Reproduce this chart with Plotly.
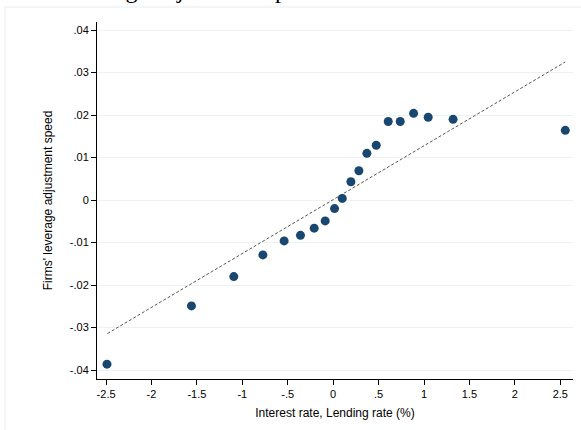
import plotly.graph_objects as go

# Binned scatter data
bin_x = [-2.49, -1.56, -1.094, -0.774, -0.54, -0.36, -0.209, -0.088, 0.015, 0.10,
         0.195, 0.283, 0.371, 0.474, 0.606, 0.738, 0.885, 1.046, 1.32, 2.555]
bin_y = [-0.0386, -0.0249, -0.0180, -0.0129, -0.0096, -0.0083, -0.0066, -0.0049, -0.0020, 0.0004,
         0.0043, 0.0069, 0.0110, 0.0129, 0.0185, 0.0185, 0.0204, 0.0195, 0.0190, 0.0164]

# Linear fit line endpoints
fit_x = [-2.485, 2.555]
fit_y = [-0.0314, 0.0325]

x_tickvals = [-2.5, -2, -1.5, -1, -0.5, 0, 0.5, 1, 1.5, 2, 2.5]
x_ticktext = ["-2.5", "-2", "-1.5", "-1", "-.5", "0", ".5", "1", "1.5", "2", "2.5"]
y_tickvals = [-0.04, -0.03, -0.02, -0.01, 0, 0.01, 0.02, 0.03, 0.04]
y_ticktext = ["-.04", "-.03", "-.02", "-.01", "0", ".01", ".02", ".03", ".04"]

title_text = "Leverage adjustment speed and Interest rate"
x_title = "Interest rate, Lending rate (%)"
y_title = "Firms' leverage adjustment speed"

fig = go.Figure()
fig.add_trace(go.Scatter(x=fit_x, y=fit_y, mode="lines",
                         line=dict(color="#555555", width=1, dash="3px,2px"),
                         hoverinfo="skip", showlegend=False))
fig.add_trace(go.Scatter(x=bin_x, y=bin_y, mode="markers",
                         marker=dict(color="#1a476f", size=9, line=dict(width=0)),
                         showlegend=False))

font = dict(family="Liberation Sans, Arial, sans-serif", size=11, color="#000000")
tfont = dict(family="Liberation Sans, Arial, sans-serif", size=12, color="#000000")

fig.update_layout(
    width=581, height=430,
    margin=dict(l=97, r=8, t=22, b=51),
    paper_bgcolor="white", plot_bgcolor="white",
    font=font,
    xaxis=dict(range=[-2.6, 2.64], tickvals=x_tickvals, ticktext=x_ticktext,
               showgrid=False, zeroline=False, showline=True, linecolor="#000000", linewidth=1,
               ticks="outside", ticklen=5, tickcolor="#000000", tickfont=font,
               title=dict(text=x_title, font=tfont, standoff=9)),
    yaxis=dict(range=[-0.0421, 0.0419], tickvals=y_tickvals, ticktext=y_ticktext,
               showgrid=True, gridcolor="#eaf2f3", gridwidth=1, zeroline=False,
               showline=True, linecolor="#000000", linewidth=1,
               ticks="outside", ticklen=5, tickcolor="#000000", tickfont=font,
               title=dict(text=y_title, font=tfont, standoff=14)),
    shapes=[dict(type="rect", xref="paper", yref="paper", x0=-0.1933, x1=1.2, y0=-0.4, y1=1.042,
                 line=dict(color="#e6eef0", width=1), fillcolor="rgba(0,0,0,0)", layer="below")],
    annotations=[dict(text=title_text, xref="paper", yref="paper", x=0.363, y=1.047,
                      xanchor="center", yanchor="bottom", showarrow=False,
                      font=dict(family="Liberation Serif, Times New Roman, serif", size=24, color="#000000"))],
)

fig.write_html("out.html")
